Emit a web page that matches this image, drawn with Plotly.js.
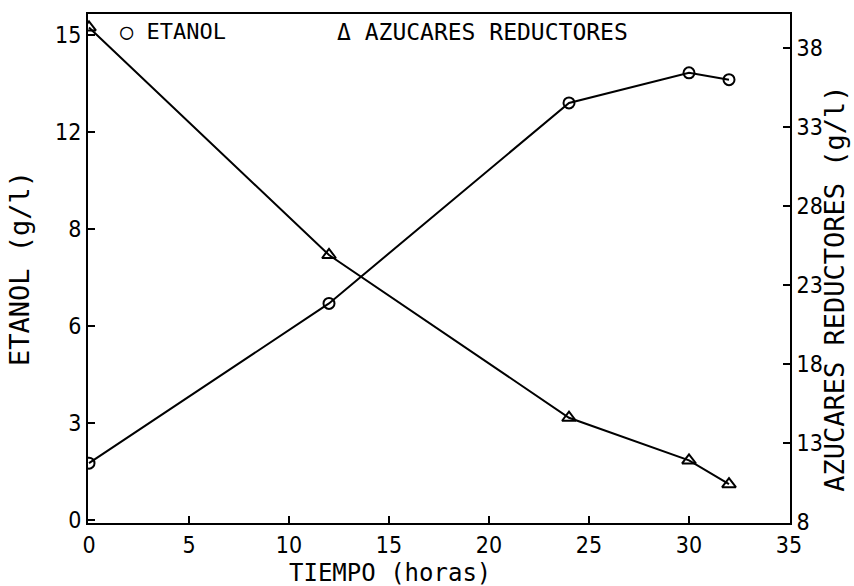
<!DOCTYPE html>
<html>
<head>
<meta charset="utf-8">
<script src="https://cdn.plot.ly/plotly-3.0.1.min.js"></script>
<style>html,body{margin:0;padding:0;background:#fff}#chart{width:854px;height:586px}</style>
</head>
<body>
<div id="chart"></div>
<script>
// Data
const tiempo = [0, 12, 24, 30, 32];
const etanol = [1.76, 6.7, 12.9, 13.83, 13.62];
const tiempoAzucares = [0, 12, 24, 30, 32];
const azucares = [39.3, 24.9, 14.6, 11.9, 10.4];

const xTicks = [0, 5, 10, 15, 20, 25, 30, 35];
const yLeftTicks = [0, 3, 6, 9, 12, 15];
const yLeftTickText = ["0", "3", "6", "8", "12", "15"];
const yRightTicks = [8, 13, 18, 23, 28, 33, 38];

const TICKFONT = '"Liberation Sans Narrow", "DejaVu Sans Condensed", "DejaVu Sans", sans-serif';
const TITLEFONT = '"DejaVu Sans Mono", "Liberation Mono", monospace';

const traces = [
  {
    x: tiempo, y: etanol, type: 'scatter', mode: 'lines+markers', name: 'ETANOL',
    line: {color: '#000', width: 2},
    marker: {symbol: 'circle-open', size: 11, color: '#000', line: {width: 2}},
    yaxis: 'y', showlegend: false
  },
  {
    x: tiempoAzucares, y: azucares, type: 'scatter', mode: 'lines+markers', name: 'AZUCARES REDUCTORES',
    line: {color: '#000', width: 2},
    marker: {symbol: 'triangle-up-open', size: 12, color: '#000', line: {width: 2}},
    yaxis: 'y2', showlegend: false
  }
];

const layout = {
  width: 854, height: 586,
  margin: {l: 88, r: 64, t: 14, b: 63},
  paper_bgcolor: '#fff', plot_bgcolor: '#fff',
  font: {family: TICKFONT, color: '#000', size: 22},
  xaxis: {
    range: [-0.05, 35.05], tickvals: xTicks, ticktext: xTicks.map(String),
    ticks: 'inside', ticklen: 7, tickwidth: 1.5, tickcolor: '#000',
    showline: true, linecolor: '#000', linewidth: 2, mirror: true,
    showgrid: false, zeroline: false,
    tickfont: {family: TICKFONT, size: 23}
  },
  yaxis: {
    range: [-0.09, 15.65], tickvals: yLeftTicks, ticktext: yLeftTickText,
    ticks: 'inside', ticklen: 7, tickwidth: 1.5, tickcolor: '#000',
    showline: true, linecolor: '#000', linewidth: 2,
    showgrid: false, zeroline: false,
    tickfont: {family: TICKFONT, size: 23},
    title: {text: 'ETANOL (g/l)', font: {family: TITLEFONT, size: 27}, standoff: 18}
  },
  yaxis2: {
    overlaying: 'y', side: 'right',
    range: [7.94, 40.15], tickvals: yRightTicks, ticktext: yRightTicks.map(String),
    ticks: 'inside', ticklen: 7, tickwidth: 1.5, tickcolor: '#000',
    showline: true, linecolor: '#000', linewidth: 2,
    showgrid: false, zeroline: false,
    tickfont: {family: TICKFONT, size: 23}
  },
  annotations: [
    {xref: 'paper', yref: 'paper', x: 0.043, y: 0.965, xanchor: 'left', yanchor: 'middle',
     text: '○ ETANOL', showarrow: false, font: {family: TITLEFONT, size: 22, color: '#000'}},
    {xref: 'paper', yref: 'paper', x: 0.352, y: 0.965, xanchor: 'left', yanchor: 'middle',
     text: 'Δ AZUCARES REDUCTORES', showarrow: false, font: {family: TITLEFONT, size: 23, color: '#000'}},
    // x axis title
    {xref: 'paper', yref: 'paper', x: 0.43, y: -0.098, xanchor: 'center', yanchor: 'middle',
     text: 'TIEMPO (horas)', showarrow: false, font: {family: TITLEFONT, size: 24, color: '#000'}},
    // right axis title
    {xref: 'paper', yref: 'paper', x: 1.064, y: 0.46, xanchor: 'center', yanchor: 'middle', textangle: -90,
     text: 'AZUCARES REDUCTORES (g/l)', showarrow: false, font: {family: TITLEFONT, size: 27, color: '#000'}}
  ]
};

Plotly.newPlot('chart', traces, layout, {staticPlot: true, displayModeBar: false});
</script>
</body>
</html>
